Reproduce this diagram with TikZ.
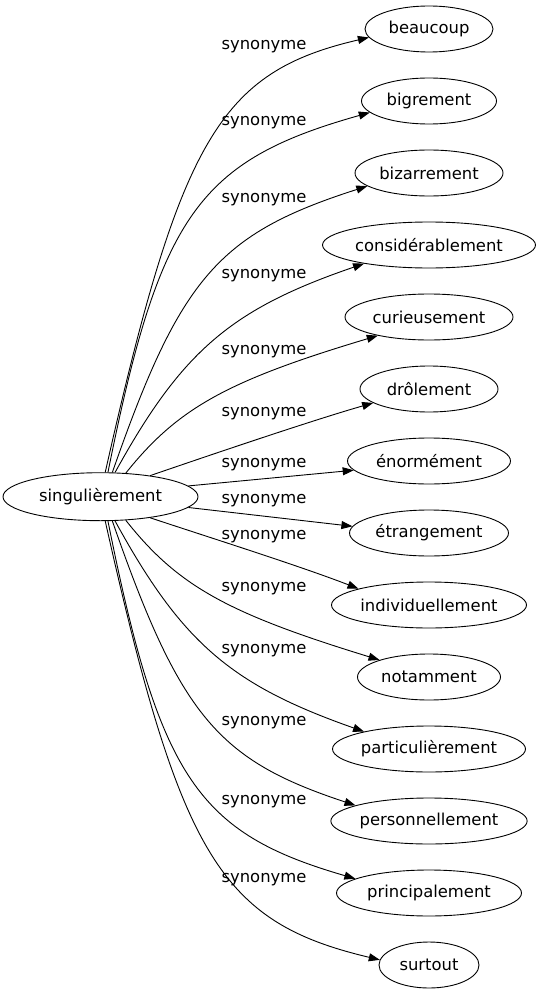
\documentclass[tikz,border=0pt]{standalone}
\usepackage{fontspec}
\setmainfont{DejaVu Sans}
\usetikzlibrary{shapes.geometric,arrows.meta}
\begin{document}
\begin{tikzpicture}[x=1pt,y=-1pt,
  every node/.style={font=\fontsize{16.4}{19}\selectfont},
  word/.style={draw,ellipse,inner sep=0pt,minimum height=46pt,line width=0.9pt},
  lbl/.style={inner sep=0pt},
  syn/.style={draw,line width=0.9pt,-{Triangle[length=11pt,width=8pt]}}]
\useasboundingbox (0,0) rectangle (541,995);
\node[word,minimum width=195pt,minimum height=48pt] (s) at (100.5,496.7) {singulièrement};
\node[word,minimum width=128pt] (t1) at (429,29) {beaucoup};
\node[word,minimum width=135pt] (t2) at (429,101) {bigrement};
\node[word,minimum width=148pt] (t3) at (429,173) {bizarrement};
\node[word,minimum width=213pt] (t4) at (429,245) {considérablement};
\node[word,minimum width=168pt] (t5) at (429,317) {curieusement};
\node[word,minimum width=138pt] (t6) at (429,389) {drôlement};
\node[word,minimum width=163pt] (t7) at (429,461) {énormément};
\node[word,minimum width=159pt] (t8) at (429,533) {étrangement};
\node[word,minimum width=195pt] (t9) at (429,605) {individuellement};
\node[word,minimum width=143pt] (t10) at (429,677) {notamment};
\node[word,minimum width=193pt] (t11) at (429,749) {particulièrement};
\node[word,minimum width=188pt] (t12) at (429,821) {personnellement};
\node[word,minimum width=185pt] (t13) at (429,893) {principalement};
\node[word,minimum width=100pt] (t14) at (429,965) {surtout};
\node[lbl] (l1) at (264,47) {synonyme};
\node[lbl] (l2) at (264,123) {synonyme};
\node[lbl] (l3) at (264,200) {synonyme};
\node[lbl] (l4) at (264,276) {synonyme};
\node[lbl] (l5) at (264,352) {synonyme};
\node[lbl] (l6) at (264,414) {synonyme};
\node[lbl] (l7) at (264,465) {synonyme};
\node[lbl] (l8) at (264,501) {synonyme};
\node[lbl] (l9) at (264,537) {synonyme};
\node[lbl] (l10) at (264,589) {synonyme};
\node[lbl] (l11) at (264,651) {synonyme};
\node[lbl] (l12) at (264,723) {synonyme};
\node[lbl] (l13) at (264,802) {synonyme};
\node[lbl] (l14) at (264,880) {synonyme};
% upper edges
\draw[syn] (s.79) .. controls (180.6,137.3) and (220.4,72) .. (t1.188);
\draw[syn] (s.73) .. controls (159.7,214.7) and (198.5,160.7) .. (t2.191);
\draw[syn] (s.64) .. controls (180.5,277) and (218.5,233.8) .. (t3.192);
\draw[syn] (s.59) .. controls (182,350.8) and (231.4,309) .. (t4.196);
\draw[syn] (s.43) .. controls (177.8,408) and (227.3,380.7) .. (t5.200);
\draw[syn] (s.23) .. controls (200,458.5) and (310,421) .. (t6.194);
\draw[syn] (s.7) -- (t7.187);
% lower edges
\draw[syn] (s.-7) -- (t8.175);
\draw[syn] (s.-23) .. controls (205,536) and (300,566) .. (t9.167);
\draw[syn] (s.-43) .. controls (177.8,586) and (227.3,613.3) .. (t10.161);
\draw[syn] (s.-59) .. controls (182,643.2) and (231.4,685) .. (t11.165);
\draw[syn] (s.-64) .. controls (180.5,717) and (218.5,760.2) .. (t12.168);
\draw[syn] (s.-73) .. controls (159.7,779.3) and (198.5,833.3) .. (t13.169);
\draw[syn] (s.-79) .. controls (180.6,857) and (220.4,922) .. (t14.174);
\end{tikzpicture}
\end{document}
